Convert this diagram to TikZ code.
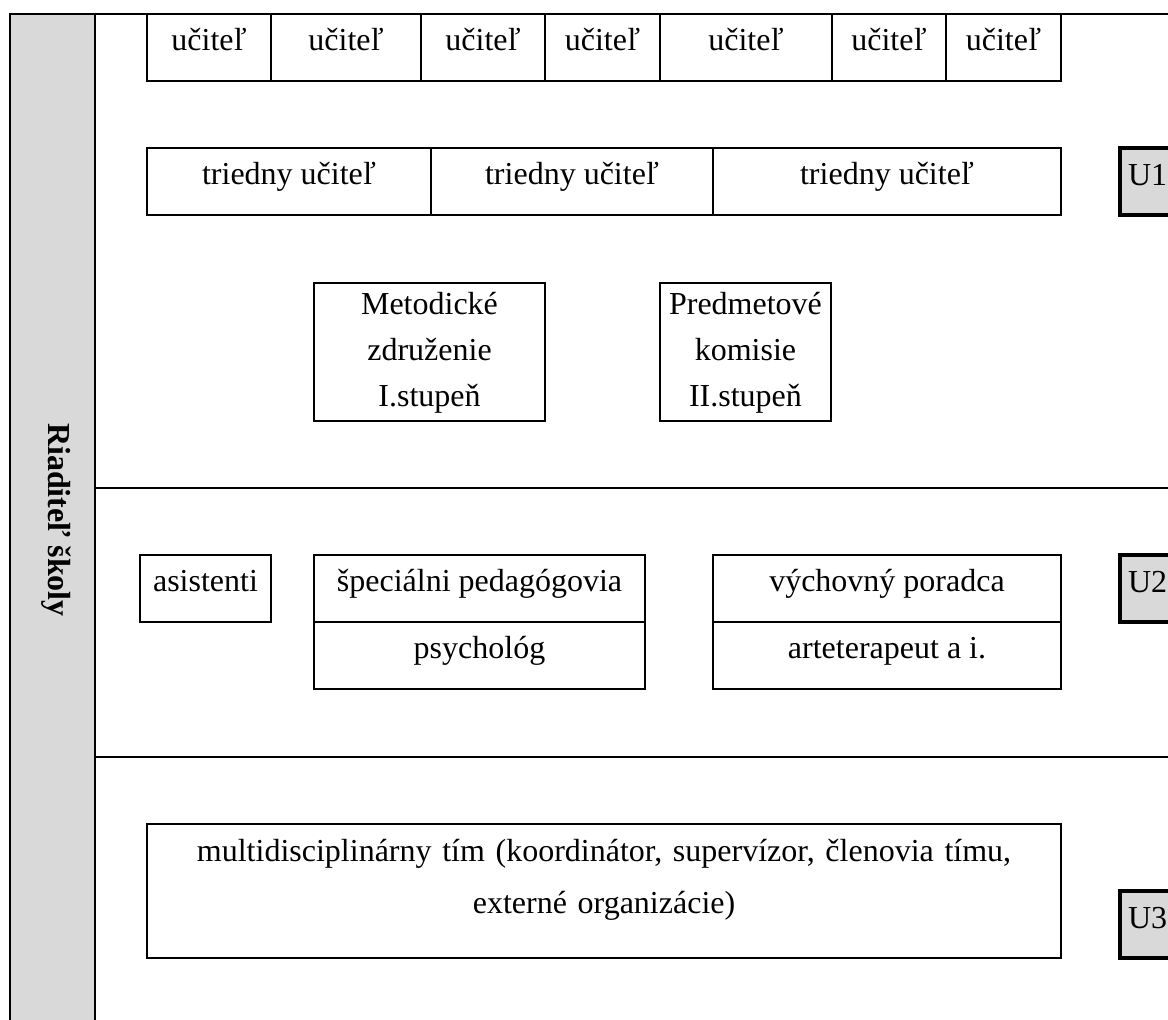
\documentclass[tikz,border=0pt]{standalone}
\usepackage{fontspec}
\setmainfont{Liberation Serif}
\usetikzlibrary{positioning}
\definecolor{OrgGray}{HTML}{D9D9D9}

\begin{document}
\begin{tikzpicture}[
  x=0.375pt, y=-0.375pt,
  frame/.style={line width=1.1pt},
  band/.style={line width=0.8pt},
  cell/.style={draw, line width=0.8pt, inner sep=0pt, outer sep=0pt, anchor=north, align=center, font=\fontsize{12pt}{14pt}\selectfont},
  rowcell/.style={cell, text height=13.7pt, text depth=11.4pt},
  tallcell/.style={cell, text height=11.7pt, text depth=40.1pt, font=\fontsize{12pt}{17.25pt}\selectfont},
  widecell/.style={cell, text height=13.9pt, text depth=36.4pt, font=\fontsize{12pt}{19.5pt}\selectfont},
  ulevel/.style={draw, fill=OrgGray, line width=1.6pt, inner xsep=3pt, inner ysep=0pt, outer sep=0pt, anchor=north west, align=left, text width=30pt, text height=13.9pt, text depth=11.2pt, font=\fontsize{12pt}{14pt}\selectfont}
]
\useasboundingbox (0,0) rectangle (1168,1019);
\clip (0,0) rectangle (1168,1019);

% frame and director bar
\fill[OrgGray] (10,14) rectangle (95,1040);
\draw[frame] (1200,14) -- (10,14) -- (10,1040);
\draw[frame] (95,14) -- (95,1040);
\draw[band] (95,488) -- (1200,488);
\draw[band] (95,757) -- (1200,757);
\node[rotate=-90, font=\bfseries\fontsize{12pt}{14pt}\selectfont] (riaditel) at (56,520) {Riaditeľ školy};

% U1
\node[rowcell, minimum width=46.5pt] (uc1) at (209,14) {učiteľ};
\node[rowcell, minimum width=56.25pt, right=0pt of uc1] (uc2) {učiteľ};
\node[rowcell, minimum width=46.5pt, right=0pt of uc2] (uc3) {učiteľ};
\node[rowcell, minimum width=43.1pt, right=0pt of uc3] (uc4) {učiteľ};
\node[rowcell, minimum width=64.5pt, right=0pt of uc4] (uc5) {učiteľ};
\node[rowcell, minimum width=42.75pt, right=0pt of uc5] (uc6) {učiteľ};
\node[rowcell, minimum width=43.1pt, right=0pt of uc6] (uc7) {učiteľ};

\node[rowcell, minimum width=106.5pt] (tr1) at (289,148) {triedny učiteľ};
\node[rowcell, minimum width=105.75pt, right=0pt of tr1] (tr2) {triedny učiteľ};
\node[rowcell, minimum width=130.5pt, right=0pt of tr2] (tr3) {triedny učiteľ};

\node[tallcell, text width=86.6pt] (metod) at (429.5,283) {Metodické\\združenie\\I.stupeň};
\node[tallcell, text width=64.1pt] (predm) at (745.5,283) {Predmetové\\komisie\\II.stupeň};

\node[ulevel] (u1) at (1120,148) {U1};

% U2
\node[rowcell, minimum width=49.1pt] (asist) at (205.5,555) {asistenti};
\node[rowcell, minimum width=124.1pt] (specped) at (479.5,555) {špeciálni pedagógovia};
\node[rowcell, minimum width=124.1pt, below=0pt of specped] (psych) {psychológ};
\node[rowcell, minimum width=130.5pt] (vychpor) at (887,555) {výchovný poradca};
\node[rowcell, minimum width=130.5pt, below=0pt of vychpor] (arte) {arteterapeut a i.};

\node[ulevel] (u2) at (1120,555) {U2};

% U3
\node[widecell, text width=342.75pt] (multi) at (604,824) {multidisciplinárny tím (koordinátor, supervízor, členovia tímu,\\externé organizácie)};

\node[ulevel] (u3) at (1120,891) {U3};
\end{tikzpicture}
\end{document}
